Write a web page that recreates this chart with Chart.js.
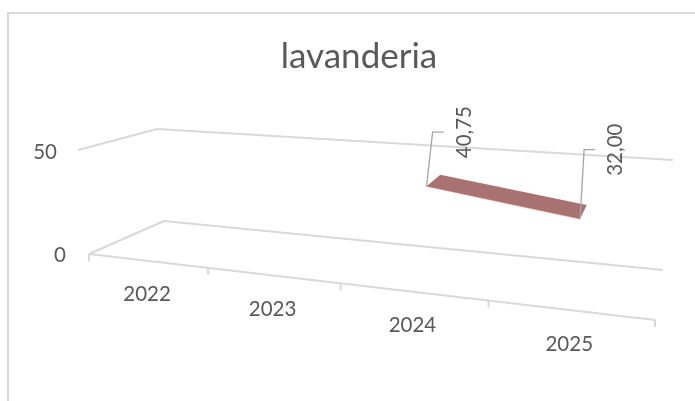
<!DOCTYPE html>
<html>
<head>
<meta charset="utf-8">
<style>body{margin:0;background:#fff}</style>
<script src="https://cdn.jsdelivr.net/npm/chart.js@4"></script>
</head>
<body>
<canvas id="monGraphique" width="695" height="401"></canvas>
<script>
const chartTitle = 'lavanderia';
const years = ['2022', '2023', '2024', '2025'];
const lavanderia = [null, null, 40.75, 32.00];
const valueTicks = [0, 50];

// the 3D box of the original: screen corners of the floor and of the top plane
const floorBox = { fl: [89, 254], fr: [655, 320], bl: [164, 221], br: [663, 270] };
const topBox = { fl: [78, 150], fr: [665, 195], bl: [157, 129], br: [673, 160] };
const perspective = 1.25;
const ribbonFront = 0.35, ribbonBack = 0.71;

const gridColor = '#d9d9d9', textColor = '#595959', leaderColor = '#a6a6a6';
const labelFont = '20.5px Lato';

const lerp = (a, b, t) => [a[0] + (b[0] - a[0]) * t, a[1] + (b[1] - a[1]) * t];

// u = along the years (0..1), d = depth (0..1), h = height (0..1)
function project(u, d, h) {
    const f = u / (u + perspective * (1 - u));
    const low = lerp(lerp(floorBox.fl, floorBox.fr, f), lerp(floorBox.bl, floorBox.br, f), d);
    const high = lerp(lerp(topBox.fl, topBox.fr, f), lerp(topBox.bl, topBox.br, f), d);
    return lerp(low, high, h);
}

function unit(chart, px, py) {
    const a = chart.chartArea;
    return [(px - a.left) / (a.right - a.left), (a.bottom - py) / (a.bottom - a.top)];
}

// the ribbon is a closed loop: front edge forward, back edge returning
const filled = years.map((y, i) => ({ x: y, y: lavanderia[i] })).filter(p => p.y !== null);
const frontEdge = filled.map(p => ({ ...p, depth: ribbonFront }));
const backEdge = filled.map(p => ({ ...p, depth: ribbonBack })).reverse();

const box3d = {
    id: 'box3d',
    // moves the points of the datasets from the flat scales to the 3D view
    afterDatasetsUpdate(chart) {
        chart.data.datasets.forEach((ds, i) => {
            chart.getDatasetMeta(i).data.forEach((el, k) => {
                const [u, h] = unit(chart, el.x, el.y);
                const p = project(u, ds.data[k].depth, h);
                el.x = p[0];
                el.y = p[1];
            });
        });
    },
    beforeDatasetsDraw(chart) {
        const { ctx, scales: { x, y } } = chart;
        const line = (pts, color, width) => {
            ctx.beginPath();
            pts.forEach((p, i) => i ? ctx.lineTo(p[0], p[1]) : ctx.moveTo(p[0], p[1]));
            ctx.strokeStyle = color;
            ctx.lineWidth = width;
            ctx.stroke();
        };
        ctx.save();
        // frame, only the top and left sides are inside the picture
        line([[8, 401], [8, 13], [695, 13]], gridColor, 2);

        // floor and wall lines
        const h50 = unit(chart, 0, y.getPixelForValue(valueTicks[1]))[1];
        line([project(0, 1, h50), project(1, 1, h50)], gridColor, 2);
        line([project(0, 0, h50), project(0, 1, h50)], gridColor, 2);
        line([project(0, 1, 0), project(1, 1, 0)], gridColor, 2);
        line([project(0, 0, 0), project(0, 1, 0)], gridColor, 2);
        line([project(0, 0, 0), project(1, 0, 0)], gridColor, 2);

        // tick marks between the years
        for (let i = 0; i <= years.length; i++) {
            const p = project(i / years.length, 0, 0);
            line([p, [p[0], p[1] + 7]], gridColor, 2);
        }

        ctx.fillStyle = textColor;
        ctx.font = labelFont;
        ctx.textAlign = 'center';
        ctx.textBaseline = 'middle';
        years.forEach((yr, i) => {
            const px = x.getPixelForValue(i);
            const p = project(unit(chart, px, 0)[0], 0, 0);
            ctx.fillText(yr, p[0], p[1] + 34);
        });
        ctx.textAlign = 'right';
        ctx.fillText(String(valueTicks[0]), project(0, 0, 0)[0] - 23, project(0, 0, 0)[1] + 1);
        ctx.fillText(String(valueTicks[1]), project(0, 0, h50)[0] - 21, project(0, 0, h50)[1] + 2);
        ctx.restore();
    },
    afterDatasetsDraw(chart) {
        const { ctx } = chart;
        const front = chart.getDatasetMeta(1).data;
        ctx.save();
        front.forEach((pt, i) => {
            // leader line and rotated value
            ctx.beginPath();
            ctx.moveTo(pt.x, pt.y);
            ctx.lineTo(pt.x + (i ? 4 : 6), pt.y - (i ? 69 : 54));
            ctx.lineTo(pt.x + (i ? 15 : 17), pt.y - (i ? 69 : 54));
            ctx.strokeStyle = leaderColor;
            ctx.lineWidth = 1.3;
            ctx.stroke();

            ctx.save();
            ctx.translate(pt.x + (i ? 35 : 38), pt.y - (i ? 69 : 54));
            ctx.rotate(-Math.PI / 2);
            ctx.fillStyle = textColor;
            ctx.font = labelFont;
            ctx.textAlign = 'center';
            ctx.textBaseline = 'middle';
            ctx.fillText(filled[i].y.toFixed(2).replace('.', ','), 0, 0);
            ctx.restore();
        });
        ctx.restore();
    }
};

new Chart(document.getElementById('monGraphique').getContext('2d'), {
    type: 'line',
    data: {
        labels: years,
        datasets: [{
            label: 'lavanderia',
            data: [...frontEdge, ...backEdge],
            backgroundColor: '#a87272',
            borderWidth: 0,
            pointRadius: 0,
            fill: 'shape',
            tension: 0,
            clip: false
        }, {
            label: 'lavanderia bordo',
            data: frontEdge.map(p => ({ ...p })),
            borderColor: '#f2a8a2',
            borderWidth: 1.5,
            pointRadius: 0,
            fill: false,
            tension: 0,
            clip: false
        }]
    },
    plugins: [box3d],
    options: {
        responsive: false,
        animation: false,
        layout: { padding: { left: 23 } },
        scales: {
            x: { display: false, offset: true },
            y: { display: false, min: valueTicks[0], max: valueTicks[1] }
        },
        plugins: {
            legend: { display: false },
            tooltip: { enabled: false },
            title: {
                display: true,
                text: chartTitle,
                color: textColor,
                font: { family: 'Lato', size: 35, weight: 'normal' },
                padding: { top: 36, bottom: 0 }
            }
        }
    }
});
</script>
</body>
</html>
